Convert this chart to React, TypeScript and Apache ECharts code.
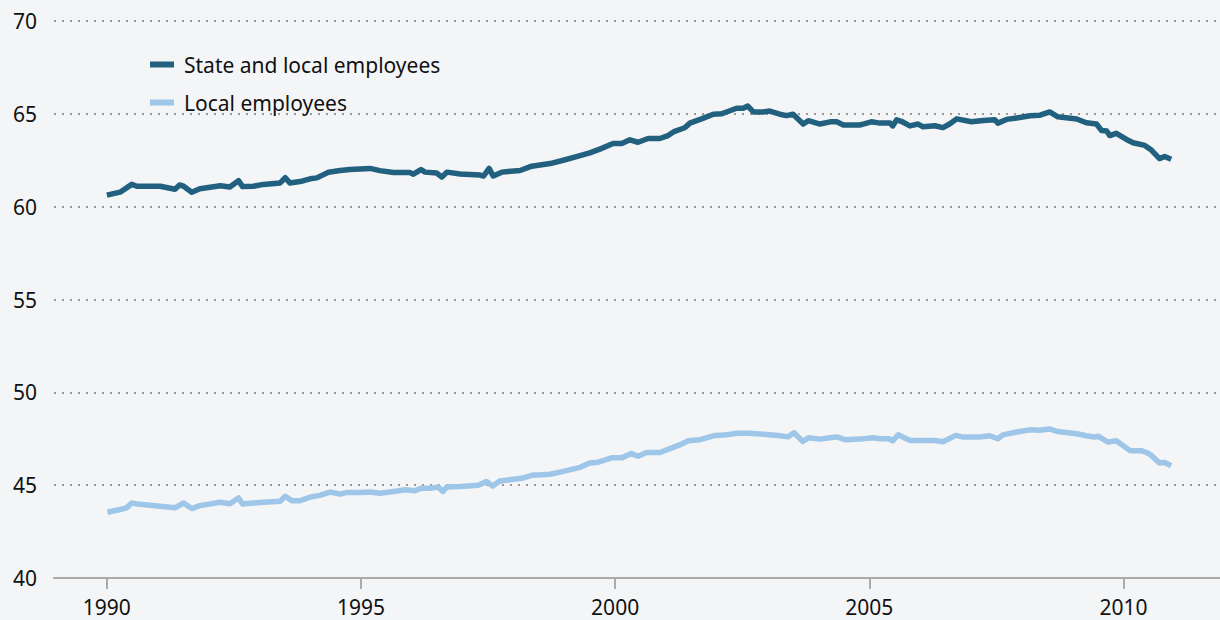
import React, { useEffect, useRef } from "react";
import * as echarts from "echarts";

// Decimal years and values (percent)
const stateLocalYears = [
  1990.0, 1990.26, 1990.49, 1990.59, 1991.05, 1991.34, 1991.43, 1991.51, 1991.67, 1991.83,
  1992.23, 1992.42, 1992.59, 1992.67, 1992.88, 1993.08, 1993.41, 1993.51, 1993.6, 1993.8,
  1994.0, 1994.13, 1994.36, 1994.59, 1994.78, 1994.98, 1995.18, 1995.37, 1995.64, 1995.96,
  1996.03, 1996.18, 1996.26, 1996.49, 1996.59, 1996.69, 1996.95, 1997.34, 1997.41, 1997.52,
  1997.6, 1997.77, 1998.13, 1998.36, 1998.72, 1998.98, 1999.24, 1999.5, 1999.7, 1999.96,
  2000.13, 2000.29, 2000.45, 2000.65, 2000.88, 2001.04, 2001.17, 2001.37, 2001.47, 2001.7,
  2001.93, 2002.09, 2002.19, 2002.39, 2002.52, 2002.61, 2002.72, 2002.91, 2003.04, 2003.24,
  2003.37, 2003.5, 2003.7, 2003.8, 2004.03, 2004.23, 2004.36, 2004.49, 2004.81, 2004.88,
  2005.04, 2005.21, 2005.41, 2005.46, 2005.54, 2005.63, 2005.8, 2005.96, 2006.06, 2006.29,
  2006.45, 2006.58, 2006.72, 2007.01, 2007.24, 2007.47, 2007.53, 2007.7, 2007.9, 2008.16,
  2008.36, 2008.55, 2008.71, 2009.08, 2009.27, 2009.47, 2009.57, 2009.67, 2009.73, 2009.86,
  2010.06, 2010.19, 2010.42, 2010.55, 2010.71, 2010.81, 2010.94,
];
const stateLocalValues = [
  60.62, 60.78, 61.2, 61.1, 61.1, 60.94, 61.17, 61.1, 60.78, 60.97,
  61.13, 61.06, 61.4, 61.08, 61.1, 61.2, 61.28, 61.56, 61.28, 61.35,
  61.5, 61.55, 61.85, 61.95, 62.0, 62.03, 62.06, 61.94, 61.84, 61.84,
  61.75, 62.0, 61.86, 61.81, 61.6, 61.86, 61.76, 61.7, 61.65, 62.06,
  61.65, 61.86, 61.95, 62.18, 62.32, 62.5, 62.7, 62.9, 63.1, 63.4,
  63.4, 63.6, 63.47, 63.67, 63.67, 63.83, 64.06, 64.25, 64.5, 64.73,
  64.98, 65.0, 65.1, 65.3, 65.3, 65.42, 65.1, 65.1, 65.15, 64.98,
  64.9, 64.98, 64.45, 64.63, 64.45, 64.57, 64.57, 64.4, 64.4, 64.45,
  64.57, 64.5, 64.5, 64.35, 64.68, 64.6, 64.35, 64.45, 64.3, 64.36,
  64.26, 64.45, 64.73, 64.57, 64.64, 64.68, 64.5, 64.7, 64.78, 64.9,
  64.93, 65.1, 64.84, 64.72, 64.52, 64.45, 64.1, 64.08, 63.83, 63.95,
  63.62, 63.44, 63.3, 63.05, 62.59, 62.7, 62.55,
];

const localYears = [
  1990.01, 1990.26, 1990.39, 1990.49, 1990.59, 1991.05, 1991.34, 1991.51, 1991.67, 1991.83,
  1992.23, 1992.42, 1992.59, 1992.67, 1993.08, 1993.41, 1993.51, 1993.64, 1993.8, 1994.0,
  1994.19, 1994.39, 1994.59, 1994.72, 1994.98, 1995.18, 1995.37, 1995.64, 1995.87, 1996.06,
  1996.19, 1996.39, 1996.52, 1996.61, 1996.69, 1996.95, 1997.31, 1997.47, 1997.59, 1997.73,
  1998.0, 1998.16, 1998.36, 1998.72, 1998.98, 1999.31, 1999.5, 1999.67, 1999.93, 2000.13,
  2000.32, 2000.45, 2000.62, 2000.88, 2001.08, 2001.28, 2001.44, 2001.67, 2001.93, 2002.19,
  2002.39, 2002.62, 2002.98, 2003.24, 2003.4, 2003.52, 2003.69, 2003.8, 2004.03, 2004.23,
  2004.36, 2004.52, 2004.81, 2005.08, 2005.21, 2005.39, 2005.46, 2005.57, 2005.8, 2006.06,
  2006.29, 2006.45, 2006.7, 2006.85, 2007.17, 2007.37, 2007.53, 2007.63, 2007.9, 2008.16,
  2008.36, 2008.54, 2008.71, 2009.08, 2009.27, 2009.43, 2009.5, 2009.7, 2009.86, 2010.13,
  2010.35, 2010.45, 2010.55, 2010.71, 2010.81, 2010.94,
];
const localValues = [
  43.54, 43.69, 43.78, 44.04, 43.99, 43.87, 43.78, 44.04, 43.74, 43.9,
  44.08, 44.0, 44.31, 43.99, 44.08, 44.13, 44.4, 44.16, 44.16, 44.36,
  44.45, 44.63, 44.52, 44.61, 44.6, 44.63, 44.57, 44.66, 44.75, 44.7,
  44.84, 44.84, 44.9, 44.66, 44.9, 44.93, 45.0, 45.2, 44.96, 45.23,
  45.32, 45.37, 45.53, 45.59, 45.74, 45.96, 46.2, 46.24, 46.47, 46.47,
  46.7, 46.56, 46.76, 46.76, 46.97, 47.18, 47.39, 47.45, 47.66, 47.71,
  47.8, 47.8, 47.73, 47.66, 47.6, 47.82, 47.36, 47.55, 47.48, 47.55,
  47.6, 47.45, 47.48, 47.55, 47.5, 47.5, 47.39, 47.71, 47.41, 47.41,
  47.41, 47.34, 47.68, 47.59, 47.59, 47.66, 47.5, 47.71, 47.86, 47.98,
  47.96, 48.03, 47.89, 47.77, 47.66, 47.59, 47.64, 47.32, 47.39, 46.86,
  46.86, 46.76, 46.6, 46.19, 46.22, 46.05,
];

const xTickYears = [1990, 1995, 2000, 2005, 2010];
const seriesNames = ["State and local employees", "Local employees"];
const FONT = "'Noto Sans', 'DejaVu Sans', sans-serif";

export default function App() {
  const ref = useRef<HTMLDivElement>(null);
  useEffect(() => {
    if (!ref.current) return;
    const chart = echarts.init(ref.current, null, { renderer: "svg" });
    const zip = (xs: number[], ys: number[]) => xs.map((x, i) => [x, ys[i]]);
    chart.setOption({
      animation: false,
      backgroundColor: "#f4f5f7",
      textStyle: { fontFamily: FONT },
      grid: { left: 54, right: 0, top: 21, bottom: 42, containLabel: false },
      legend: {
        orient: "vertical",
        left: 145,
        top: 49,
        itemWidth: 24,
        itemHeight: 6,
        itemGap: 17,
        icon: "rect",
        textStyle: { fontSize: 21, color: "#111111", fontFamily: FONT, padding: [0, 0, 0, 5] },
        data: seriesNames,
      },
      xAxis: {
        type: "value",
        min: 1988.96,
        max: 2011.9,
        axisLine: { show: true, lineStyle: { color: "#aaaaaa", width: 2 } },
        axisTick: { show: true, length: 11, lineStyle: { color: "#aaaaaa", width: 2 }, customValues: xTickYears },
        axisLabel: { fontSize: 21, color: "#111111", margin: 18, fontFamily: FONT, customValues: xTickYears, formatter: (v: number) => String(Math.round(v)) },
        splitLine: { show: false },
      },
      yAxis: {
        type: "value",
        min: 40,
        max: 70,
        interval: 5,
        axisLine: { show: false },
        axisTick: { show: false },
        axisLabel: { fontSize: 21, color: "#111111", margin: 17, fontFamily: FONT },
        splitLine: { show: true, lineStyle: { color: "#999999", width: 2, type: [2, 6] } },
      },
      series: [
        {
          name: seriesNames[0],
          type: "line",
          data: zip(stateLocalYears, stateLocalValues),
          showSymbol: false,
          symbol: "none",
          lineStyle: { color: "#22607f", width: 5.5, join: "round" },
          itemStyle: { color: "#22607f" },
        },
        {
          name: seriesNames[1],
          type: "line",
          data: zip(localYears, localValues),
          showSymbol: false,
          symbol: "none",
          lineStyle: { color: "#9dc6e8", width: 5.5, join: "round" },
          itemStyle: { color: "#9dc6e8" },
        },
      ],
    });
    return () => chart.dispose();
  }, []);
  return <div ref={ref} style={{ position: "fixed", left: 0, top: 0, width: 1220, height: 620 }} />;
}
